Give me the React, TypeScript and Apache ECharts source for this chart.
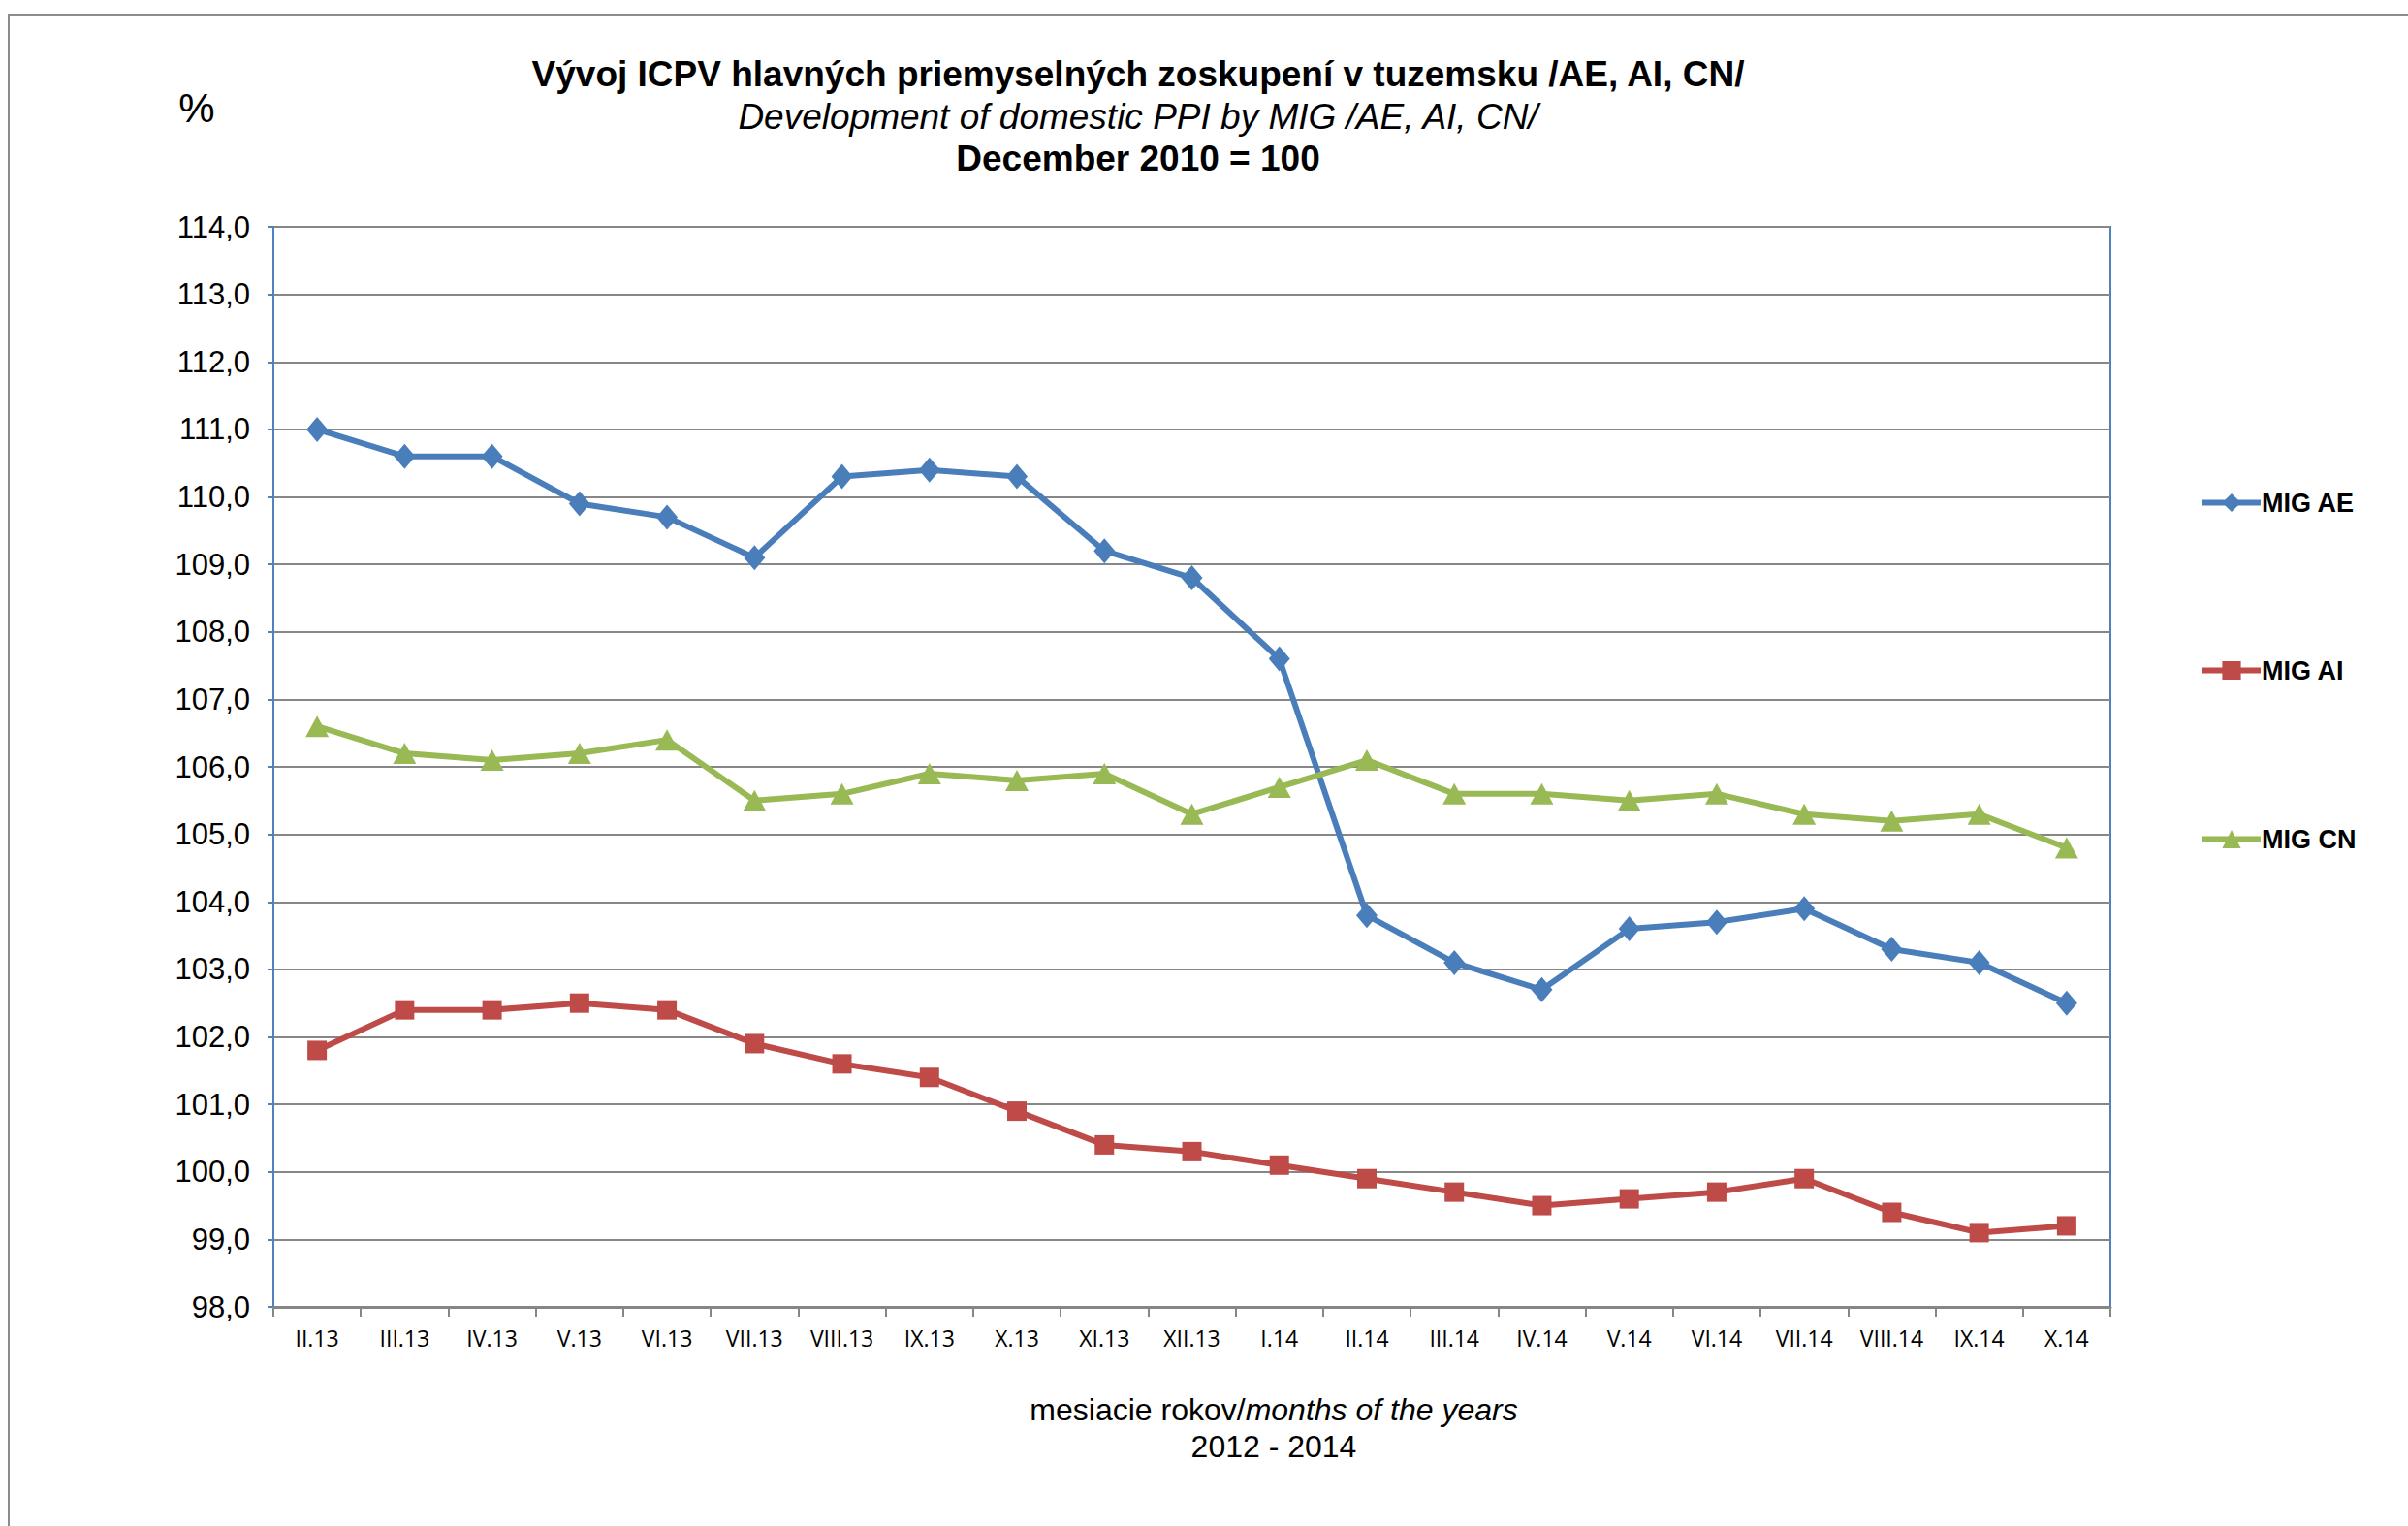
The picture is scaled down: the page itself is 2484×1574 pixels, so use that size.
import React, { useEffect, useRef } from "react";
import * as echarts from "echarts";

const categories = ["II.13", "III.13", "IV.13", "V.13", "VI.13", "VII.13", "VIII.13", "IX.13", "X.13", "XI.13", "XII.13", "I.14", "II.14", "III.14", "IV.14", "V.14", "VI.14", "VII.14", "VIII.14", "IX.14", "X.14"];
const migAE = [111.0, 110.6, 110.6, 109.9, 109.7, 109.1, 110.3, 110.4, 110.3, 109.2, 108.8, 107.6, 103.8, 103.1, 102.7, 103.6, 103.7, 103.9, 103.3, 103.1, 102.5];
const migAI = [101.8, 102.4, 102.4, 102.5, 102.4, 101.9, 101.6, 101.4, 100.9, 100.4, 100.3, 100.1, 99.9, 99.7, 99.5, 99.6, 99.7, 99.9, 99.4, 99.1, 99.2];
const migCN = [106.6, 106.2, 106.1, 106.2, 106.4, 105.5, 105.6, 105.9, 105.8, 105.9, 105.3, 105.7, 106.1, 105.6, 105.6, 105.5, 105.6, 105.3, 105.2, 105.3, 104.8];
const seriesNames = ["MIG AE", "MIG AI", "MIG CN"];
const titleLines = ["Vývoj ICPV hlavných priemyselných zoskupení v tuzemsku /AE, AI, CN/", "Development of domestic PPI by MIG /AE, AI, CN/", "December 2010 = 100"];

const C_AE = "#4A7EBB";
const C_AI = "#BE4B48";
const C_CN = "#98B954";
const FONT = "'Liberation Sans', Arial, sans-serif";

export default function App() {
  const ref = useRef<HTMLDivElement>(null);
  useEffect(() => {
    if (!ref.current) return;
    const chart = echarts.init(ref.current, null, { renderer: "svg" });
    const legendBase = (name: string, top: number) => ({
      data: [name],
      left: 2264,
      top,
      orient: "vertical",
      itemWidth: 60,
      itemHeight: 24,
      itemGap: 0,
      lineStyle: { width: 6 },
      textStyle: { fontFamily: FONT, fontSize: 27, fontWeight: "bold", color: "#000", padding: [0, 0, 0, -4] },
      selectedMode: false,
    });
    chart.setOption({
      animation: false,
      backgroundColor: "#fff",
      textStyle: { fontFamily: FONT },
      grid: { left: 282, right: 307, top: 234, bottom: 226, show: true, borderColor: "#4F81BD", borderWidth: 2 },
      legend: [legendBase(seriesNames[0], 500), legendBase(seriesNames[1], 673), legendBase(seriesNames[2], 847)],
      xAxis: {
        type: "category",
        data: categories,
        boundaryGap: true,
        axisLine: { lineStyle: { color: "#868686", width: 3 } },
        axisTick: { show: true, interval: 0, length: 10, lineStyle: { color: "#868686", width: 2 } },
        axisLabel: { interval: 0, fontFamily: "'Open Sans', sans-serif", fontSize: 23, color: "#000", margin: 20 },
        splitLine: { show: false },
      },
      yAxis: {
        type: "value",
        min: 98,
        max: 114,
        interval: 1,
        axisLine: { show: true, lineStyle: { color: "#4F81BD", width: 2 } },
        axisTick: { show: true, length: 6, lineStyle: { color: "#4F81BD", width: 2 } },
        axisLabel: { fontFamily: FONT, fontSize: 31, color: "#000", margin: 24, formatter: (v: number) => v.toFixed(1).replace(".", ",") },
        splitLine: { lineStyle: { color: "#878787", width: 2 } },
      },
      series: [
        { name: seriesNames[0], type: "line", data: migAE, color: C_AE, symbol: "diamond", symbolSize: [22, 26], lineStyle: { width: 6, color: C_AE }, itemStyle: { color: C_AE } },
        { name: seriesNames[1], type: "line", data: migAI, color: C_AI, symbol: "rect", symbolSize: 20, lineStyle: { width: 6, color: C_AI }, itemStyle: { color: C_AI } },
        { name: seriesNames[2], type: "line", data: migCN, color: C_CN, symbol: "triangle", symbolSize: [24, 22], lineStyle: { width: 6, color: C_CN }, itemStyle: { color: C_CN } },
      ],
      graphic: [
        { type: "rect", shape: { x: 9, y: 15, width: 2600, height: 1700 }, style: { fill: "none", stroke: "#8c8c8c", lineWidth: 2 }, silent: true, z: -1 },
        { type: "text", x: 1174, y: 76, style: { text: titleLines[0], font: `bold 37px ${FONT}`, fill: "#000", textAlign: "center", textVerticalAlign: "middle" } },
        { type: "text", x: 1174, y: 120, style: { text: titleLines[1], font: `italic 37px ${FONT}`, fill: "#000", textAlign: "center", textVerticalAlign: "middle" } },
        { type: "text", x: 1174, y: 163, style: { text: titleLines[2], font: `bold 37px ${FONT}`, fill: "#000", textAlign: "center", textVerticalAlign: "middle" } },
        { type: "text", x: 203, y: 111, style: { text: "%", font: `42px ${FONT}`, fill: "#000", textAlign: "center", textVerticalAlign: "middle" } },
        {
          type: "text", x: 1314, y: 1454,
          style: {
            text: "{n|mesiacie rokov/}{i|months of the years}",
            rich: { n: { fontFamily: FONT, fontSize: 32, fill: "#000" }, i: { fontFamily: FONT, fontSize: 32, fontStyle: "italic", fill: "#000" } },
            textAlign: "center", textVerticalAlign: "middle",
          },
        },
        { type: "text", x: 1314, y: 1492, style: { text: "2012 - 2014", font: `32px ${FONT}`, fill: "#000", textAlign: "center", textVerticalAlign: "middle" } },
      ],
    });
    return () => chart.dispose();
  }, []);
  return <div ref={ref} style={{ position: "fixed", left: 0, top: 0, width: 2484, height: 1574 }} />;
}
